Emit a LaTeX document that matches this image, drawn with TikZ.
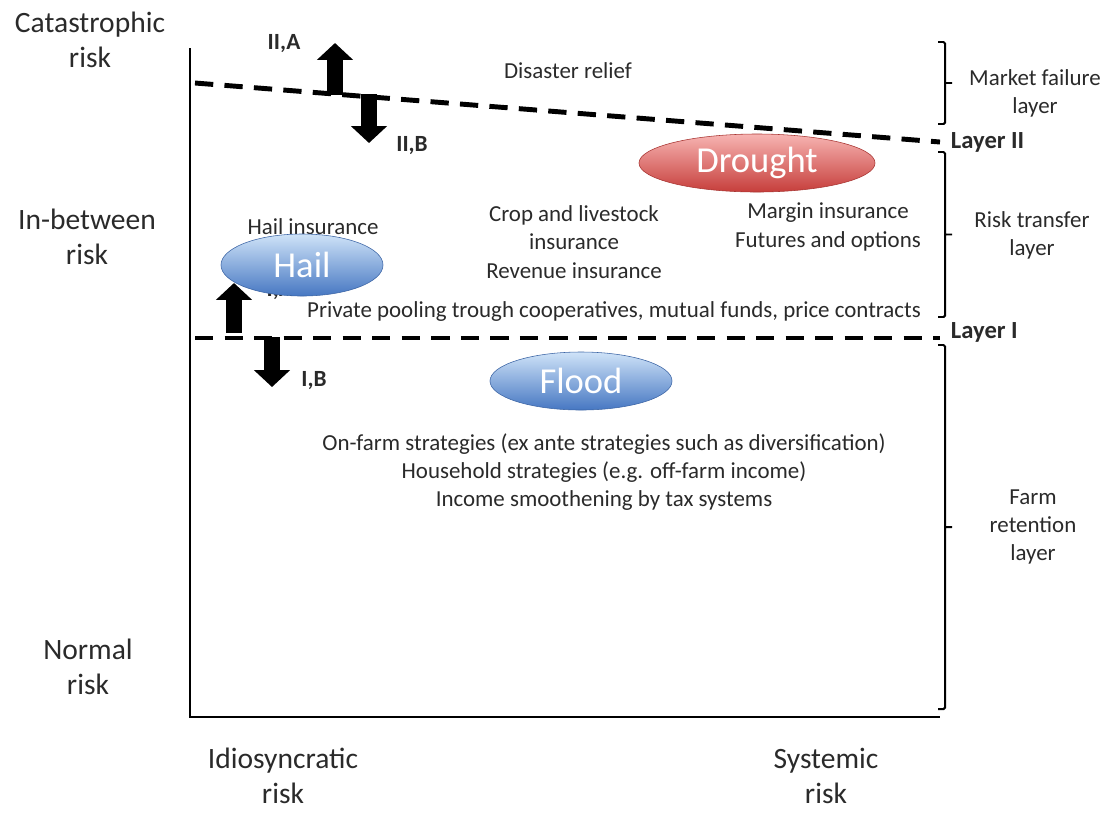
\documentclass[tikz,border=0pt]{standalone}
\usepackage{fontspec}
\setsansfont{Carlito}
\usetikzlibrary{arrows.meta,shapes.geometric}
\definecolor{ink}{HTML}{2A2A2A}
\definecolor{redtop}{HTML}{F7B4B2}
\definecolor{redbot}{HTML}{C63E3B}
\definecolor{bluetop}{HTML}{CFE3F8}
\definecolor{bluebot}{HTML}{4677C2}

\begin{document}
\begin{tikzpicture}[x=.025cm,y=-.025cm,>=Latex,every node/.style={font=\sffamily\fontsize{16.3}{20}\selectfont,text=ink},
 axislab/.style={align=center,font=\sffamily\fontsize{21}{25}\selectfont},
 side/.style={align=center},
 layer/.style={anchor=west,font=\sffamily\bfseries\fontsize{17.5}{19}\selectfont},
 tag/.style={font=\sffamily\bfseries\fontsize{16.5}{18}\selectfont},
 limit/.style={dash pattern=on 13pt off 8pt,line width=3.5pt},
 bracket/.style={line width=1.4pt},
 layershift/.style={line width=11.5pt,-{Triangle[width=25pt,length=12pt]}},
 hazard/.style={ellipse,inner sep=0pt,text=white,font=\sffamily\fontsize{26}{30}\selectfont}]
\path[use as bounding box] (0,0) rectangle (1115,812);

% axes
\draw[line width=1.8pt] (190,48)--(190,717)--(940,717);
\node[axislab] (cat) at (90,40) {Catastrophic\\risk};
\node[axislab] (mid) at (87,237) {In-between\\risk};
\node[axislab] (norm) at (88,667) {Normal\\risk};
\node[axislab] (idio) at (283,776) {Idiosyncratic\\risk};
\node[axislab] (syst) at (826,776) {Systemic\\risk};

% instruments
\node (relief) at (568,71) {Disaster relief};
\node (hailins) at (313,227) {Hail insurance};
\node[side] (crop) at (574,242) {Crop and livestock\\insurance\\Revenue insurance};
\node[side] (margin) at (828,227) {Margin insurance\\Futures and options};
\node (pool) at (614,311) {Private pooling trough cooperatives, mutual funds, price contracts};
\node[side] (onfarm) at (604,472) {On-farm strategies (ex ante strategies such as diversification)\\Household strategies (e.g. off-farm income)\\Income smoothening by tax systems};

% layers
\draw[limit] (195,83)--(940,142);
\draw[limit] (195,338)--(940,338);
\node[layer] (lII) at (946,142) {Layer II};
\node[layer] (lI) at (946,332) {Layer I};
\foreach \t/\b in {42/124,152/317,345/709}
  \draw[bracket,rounded corners=1pt] (938,\t)--(945,\t)--(945,\b)--(938,\b) (945,{(\t+\b)/2})--(952,{(\t+\b)/2});
\node[side] (failure) at (1035,93) {Market failure\\layer};
\node[side] (transfer) at (1032,235) {Risk transfer\\layer};
\node[side] (retention) at (1033,527) {Farm\\retention\\layer};

% shifts of the layers
\coordinate (IIAbase) at (335,95);
\coordinate (IIAtip) at (335,43);
\coordinate (IIBbase) at (369,94);
\coordinate (IIBtip) at (369,143);
\coordinate (IAbase) at (234,333);
\coordinate (IAtip) at (234,283);
\coordinate (IBbase) at (272,337);
\coordinate (IBtip) at (272,387);
\draw[layershift] (IIAbase)--(IIAtip);
\draw[layershift] (IIBbase)--(IIBtip);
\draw[layershift] (IAbase)--(IAtip);
\draw[layershift] (IBbase)--(IBtip);
\node[tag] (IIA) at (284,44) {II,A};
\node[tag] (IIB) at (412,146) {II,B};
\node[tag] (IA) at (280,291) {I,A};
\node[tag] (IB) at (314,381) {I,B};

% hazards
\node[hazard,minimum width=5.9cm,minimum height=1.45cm,top color=redtop,bottom color=redbot,draw=redbot!85!black,line width=.4pt] (drought) at (757,163) {Drought};
\node[hazard,minimum width=4.05cm,minimum height=1.55cm,top color=bluetop,bottom color=bluebot,draw=bluebot!85!black,line width=.4pt] (hail) at (302,265) {Hail};
\node[hazard,minimum width=4.55cm,minimum height=1.45cm,top color=bluetop,bottom color=bluebot,draw=bluebot!85!black,line width=.4pt] (flood) at (581,381) {Flood};

\end{tikzpicture}
\end{document}
